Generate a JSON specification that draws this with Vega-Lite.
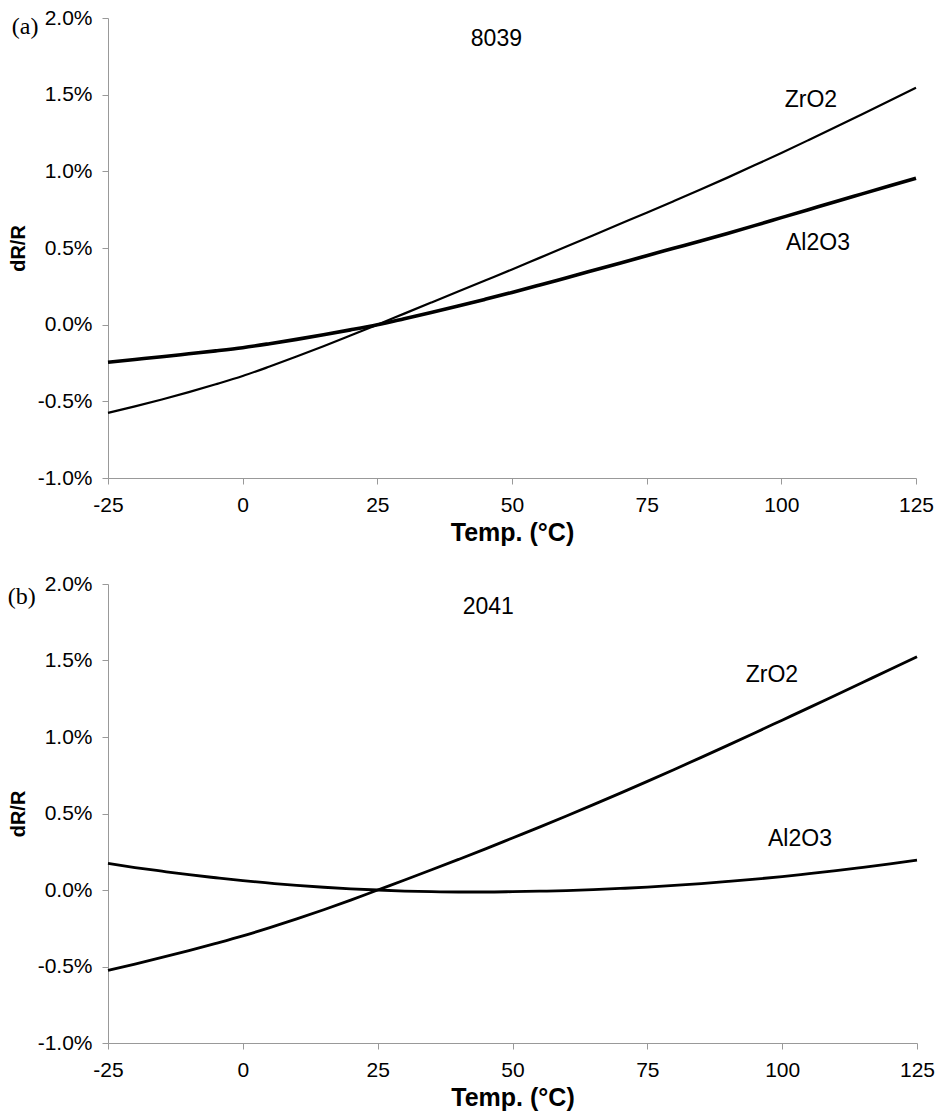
{
  "$schema": "https://vega.github.io/schema/vega-lite/v6.json",
  "background": "white",
  "padding": {"left": 7, "top": 7, "right": 5, "bottom": 5},
  "bounds": "flush",
  "spacing": 106,
  "config": {
    "font": "Liberation Sans",
    "view": {"stroke": null},
    "axis": {
      "domainColor": "#999999",
      "tickColor": "#999999",
      "tickSize": 6,
      "labelColor": "#000000",
      "labelFontSize": 21,
      "labelFont": "Liberation Sans",
      "titleFont": "Liberation Sans",
      "titleColor": "#000000",
      "grid": false,
      "labelPadding": 10
    }
  },
  "datasets": {
    "curves": [
      {"panel": "a", "material": "ZrO2", "T": -25, "v": -0.575},
      {"panel": "a", "material": "ZrO2", "T": -20, "v": -0.533},
      {"panel": "a", "material": "ZrO2", "T": -15, "v": -0.488},
      {"panel": "a", "material": "ZrO2", "T": -10, "v": -0.44},
      {"panel": "a", "material": "ZrO2", "T": -5, "v": -0.389},
      {"panel": "a", "material": "ZrO2", "T": 0, "v": -0.335},
      {"panel": "a", "material": "ZrO2", "T": 5, "v": -0.273},
      {"panel": "a", "material": "ZrO2", "T": 10, "v": -0.208},
      {"panel": "a", "material": "ZrO2", "T": 15, "v": -0.141},
      {"panel": "a", "material": "ZrO2", "T": 20, "v": -0.071},
      {"panel": "a", "material": "ZrO2", "T": 25, "v": 0},
      {"panel": "a", "material": "ZrO2", "T": 30, "v": 0.072},
      {"panel": "a", "material": "ZrO2", "T": 35, "v": 0.144},
      {"panel": "a", "material": "ZrO2", "T": 40, "v": 0.216},
      {"panel": "a", "material": "ZrO2", "T": 45, "v": 0.288},
      {"panel": "a", "material": "ZrO2", "T": 50, "v": 0.36},
      {"panel": "a", "material": "ZrO2", "T": 55, "v": 0.434},
      {"panel": "a", "material": "ZrO2", "T": 60, "v": 0.508},
      {"panel": "a", "material": "ZrO2", "T": 65, "v": 0.582},
      {"panel": "a", "material": "ZrO2", "T": 70, "v": 0.656},
      {"panel": "a", "material": "ZrO2", "T": 75, "v": 0.73},
      {"panel": "a", "material": "ZrO2", "T": 80, "v": 0.805},
      {"panel": "a", "material": "ZrO2", "T": 85, "v": 0.881},
      {"panel": "a", "material": "ZrO2", "T": 90, "v": 0.959},
      {"panel": "a", "material": "ZrO2", "T": 95, "v": 1.039},
      {"panel": "a", "material": "ZrO2", "T": 100, "v": 1.12},
      {"panel": "a", "material": "ZrO2", "T": 105, "v": 1.203},
      {"panel": "a", "material": "ZrO2", "T": 110, "v": 1.287},
      {"panel": "a", "material": "ZrO2", "T": 115, "v": 1.372},
      {"panel": "a", "material": "ZrO2", "T": 120, "v": 1.458},
      {"panel": "a", "material": "ZrO2", "T": 125, "v": 1.545},
      {"panel": "a", "material": "Al2O3", "T": -25, "v": -0.245},
      {"panel": "a", "material": "Al2O3", "T": -20, "v": -0.227},
      {"panel": "a", "material": "Al2O3", "T": -15, "v": -0.209},
      {"panel": "a", "material": "Al2O3", "T": -10, "v": -0.19},
      {"panel": "a", "material": "Al2O3", "T": -5, "v": -0.171},
      {"panel": "a", "material": "Al2O3", "T": 0, "v": -0.15},
      {"panel": "a", "material": "Al2O3", "T": 5, "v": -0.124},
      {"panel": "a", "material": "Al2O3", "T": 10, "v": -0.096},
      {"panel": "a", "material": "Al2O3", "T": 15, "v": -0.066},
      {"panel": "a", "material": "Al2O3", "T": 20, "v": -0.034},
      {"panel": "a", "material": "Al2O3", "T": 25, "v": 0},
      {"panel": "a", "material": "Al2O3", "T": 30, "v": 0.039},
      {"panel": "a", "material": "Al2O3", "T": 35, "v": 0.079},
      {"panel": "a", "material": "Al2O3", "T": 40, "v": 0.121},
      {"panel": "a", "material": "Al2O3", "T": 45, "v": 0.165},
      {"panel": "a", "material": "Al2O3", "T": 50, "v": 0.21},
      {"panel": "a", "material": "Al2O3", "T": 55, "v": 0.257},
      {"panel": "a", "material": "Al2O3", "T": 60, "v": 0.305},
      {"panel": "a", "material": "Al2O3", "T": 65, "v": 0.353},
      {"panel": "a", "material": "Al2O3", "T": 70, "v": 0.401},
      {"panel": "a", "material": "Al2O3", "T": 75, "v": 0.45},
      {"panel": "a", "material": "Al2O3", "T": 80, "v": 0.498},
      {"panel": "a", "material": "Al2O3", "T": 85, "v": 0.546},
      {"panel": "a", "material": "Al2O3", "T": 90, "v": 0.595},
      {"panel": "a", "material": "Al2O3", "T": 95, "v": 0.646},
      {"panel": "a", "material": "Al2O3", "T": 100, "v": 0.698},
      {"panel": "a", "material": "Al2O3", "T": 105, "v": 0.75},
      {"panel": "a", "material": "Al2O3", "T": 110, "v": 0.802},
      {"panel": "a", "material": "Al2O3", "T": 115, "v": 0.853},
      {"panel": "a", "material": "Al2O3", "T": 120, "v": 0.904},
      {"panel": "a", "material": "Al2O3", "T": 125, "v": 0.955},
      {"panel": "b", "material": "ZrO2", "T": -25, "v": -0.525},
      {"panel": "b", "material": "ZrO2", "T": -20, "v": -0.484},
      {"panel": "b", "material": "ZrO2", "T": -15, "v": -0.441},
      {"panel": "b", "material": "ZrO2", "T": -10, "v": -0.396},
      {"panel": "b", "material": "ZrO2", "T": -5, "v": -0.349},
      {"panel": "b", "material": "ZrO2", "T": 0, "v": -0.3},
      {"panel": "b", "material": "ZrO2", "T": 5, "v": -0.246},
      {"panel": "b", "material": "ZrO2", "T": 10, "v": -0.189},
      {"panel": "b", "material": "ZrO2", "T": 15, "v": -0.129},
      {"panel": "b", "material": "ZrO2", "T": 20, "v": -0.066},
      {"panel": "b", "material": "ZrO2", "T": 25, "v": 0},
      {"panel": "b", "material": "ZrO2", "T": 30, "v": 0.065},
      {"panel": "b", "material": "ZrO2", "T": 35, "v": 0.132},
      {"panel": "b", "material": "ZrO2", "T": 40, "v": 0.2},
      {"panel": "b", "material": "ZrO2", "T": 45, "v": 0.269},
      {"panel": "b", "material": "ZrO2", "T": 50, "v": 0.34},
      {"panel": "b", "material": "ZrO2", "T": 55, "v": 0.411},
      {"panel": "b", "material": "ZrO2", "T": 60, "v": 0.484},
      {"panel": "b", "material": "ZrO2", "T": 65, "v": 0.558},
      {"panel": "b", "material": "ZrO2", "T": 70, "v": 0.633},
      {"panel": "b", "material": "ZrO2", "T": 75, "v": 0.71},
      {"panel": "b", "material": "ZrO2", "T": 80, "v": 0.788},
      {"panel": "b", "material": "ZrO2", "T": 85, "v": 0.867},
      {"panel": "b", "material": "ZrO2", "T": 90, "v": 0.947},
      {"panel": "b", "material": "ZrO2", "T": 95, "v": 1.028},
      {"panel": "b", "material": "ZrO2", "T": 100, "v": 1.11},
      {"panel": "b", "material": "ZrO2", "T": 105, "v": 1.192},
      {"panel": "b", "material": "ZrO2", "T": 110, "v": 1.275},
      {"panel": "b", "material": "ZrO2", "T": 115, "v": 1.358},
      {"panel": "b", "material": "ZrO2", "T": 120, "v": 1.441},
      {"panel": "b", "material": "ZrO2", "T": 125, "v": 1.525},
      {"panel": "b", "material": "Al2O3", "T": -25, "v": 0.174},
      {"panel": "b", "material": "Al2O3", "T": -20, "v": 0.147},
      {"panel": "b", "material": "Al2O3", "T": -15, "v": 0.123},
      {"panel": "b", "material": "Al2O3", "T": -10, "v": 0.1},
      {"panel": "b", "material": "Al2O3", "T": -5, "v": 0.08},
      {"panel": "b", "material": "Al2O3", "T": 0, "v": 0.061},
      {"panel": "b", "material": "Al2O3", "T": 5, "v": 0.045},
      {"panel": "b", "material": "Al2O3", "T": 10, "v": 0.03},
      {"panel": "b", "material": "Al2O3", "T": 15, "v": 0.018},
      {"panel": "b", "material": "Al2O3", "T": 20, "v": 0.008},
      {"panel": "b", "material": "Al2O3", "T": 25, "v": 0},
      {"panel": "b", "material": "Al2O3", "T": 30, "v": -0.007},
      {"panel": "b", "material": "Al2O3", "T": 35, "v": -0.011},
      {"panel": "b", "material": "Al2O3", "T": 40, "v": -0.013},
      {"panel": "b", "material": "Al2O3", "T": 45, "v": -0.013},
      {"panel": "b", "material": "Al2O3", "T": 50, "v": -0.011},
      {"panel": "b", "material": "Al2O3", "T": 55, "v": -0.008},
      {"panel": "b", "material": "Al2O3", "T": 60, "v": -0.004},
      {"panel": "b", "material": "Al2O3", "T": 65, "v": 0.002},
      {"panel": "b", "material": "Al2O3", "T": 70, "v": 0.01},
      {"panel": "b", "material": "Al2O3", "T": 75, "v": 0.019},
      {"panel": "b", "material": "Al2O3", "T": 80, "v": 0.03},
      {"panel": "b", "material": "Al2O3", "T": 85, "v": 0.042},
      {"panel": "b", "material": "Al2O3", "T": 90, "v": 0.056},
      {"panel": "b", "material": "Al2O3", "T": 95, "v": 0.071},
      {"panel": "b", "material": "Al2O3", "T": 100, "v": 0.088},
      {"panel": "b", "material": "Al2O3", "T": 105, "v": 0.107},
      {"panel": "b", "material": "Al2O3", "T": 110, "v": 0.126},
      {"panel": "b", "material": "Al2O3", "T": 115, "v": 0.148},
      {"panel": "b", "material": "Al2O3", "T": 120, "v": 0.171},
      {"panel": "b", "material": "Al2O3", "T": 125, "v": 0.195}
    ],
    "notes": [
      {"panel": "a", "kind": "label", "text": "ZrO2", "T": 105.5, "v": 1.468},
      {"panel": "a", "kind": "label", "text": "Al2O3", "T": 106.8, "v": 0.532},
      {"panel": "a", "kind": "label", "text": "8039", "T": 47.1, "v": 1.86},
      {"panel": "a", "kind": "tag", "text": "(a)", "T": -40.4, "v": 1.94},
      {"panel": "b", "kind": "label", "text": "ZrO2", "T": 98.1, "v": 1.408},
      {"panel": "b", "kind": "label", "text": "Al2O3", "T": 103.3, "v": 0.333},
      {"panel": "b", "kind": "label", "text": "2041", "T": 45.5, "v": 1.85},
      {"panel": "b", "kind": "tag", "text": "(b)", "T": -41.0, "v": 1.915}
    ]
  },
  "vconcat": [
    {
      "width": 808,
      "height": 460,
      "layer": [
        {
          "data": {"name": "curves"},
          "transform": [{"filter": "datum.panel === 'a'"}],
          "mark": {"type": "line", "color": "#000000", "interpolate": "monotone"},
          "encoding": {
            "x": {"field": "T", "type": "quantitative",
              "scale": {"domain": [-25, 125], "nice": false, "zero": false},
              "axis": {"values": [-25, 0, 25, 50, 75, 100, 125], "title": "Temp. (°C)", "titleFontSize": 25, "titleFontWeight": "bold", "titlePadding": 5, "labelFlush": false, "labelExpr": "replace(datum.label, '\u2212', '-')"}},
            "y": {"field": "v", "type": "quantitative",
              "scale": {"domain": [-1, 2], "nice": false, "zero": false},
              "axis": {"values": [-1, -0.5, 0, 0.5, 1, 1.5, 2], "title": "dR/R", "titleFontSize": 20, "titleFontWeight": "bold", "titlePadding": 9, "labelExpr": "replace(format(datum.value, '.1f'), '\u2212', '-') + '%'"}},
            "detail": {"field": "material", "type": "nominal"},
            "strokeWidth": {"field": "material", "type": "nominal", "scale": {"domain": ["Al2O3", "ZrO2"], "range": [3.6, 2.2]}, "legend": null}
          }
        },
        {
          "data": {"name": "notes"},
          "transform": [{"filter": "datum.panel === 'a' && datum.kind === 'label'"}],
          "mark": {"type": "text", "font": "Liberation Sans", "fontSize": 23, "color": "#000000", "align": "center", "baseline": "middle"},
          "encoding": {
            "x": {"field": "T", "type": "quantitative"},
            "y": {"field": "v", "type": "quantitative"},
            "text": {"field": "text"}
          }
        },
        {
          "data": {"name": "notes"},
          "transform": [{"filter": "datum.panel === 'a' && datum.kind === 'tag'"}],
          "mark": {"type": "text", "font": "Liberation Serif", "fontSize": 24, "color": "#000000", "align": "center", "baseline": "middle"},
          "encoding": {
            "x": {"field": "T", "type": "quantitative"},
            "y": {"field": "v", "type": "quantitative"},
            "text": {"field": "text"}
          }
        }
      ]
    },
    {
      "width": 809,
      "height": 459,
      "layer": [
        {
          "data": {"name": "curves"},
          "transform": [{"filter": "datum.panel === 'b'"}],
          "mark": {"type": "line", "color": "#000000", "interpolate": "monotone", "strokeWidth": 2.8},
          "encoding": {
            "x": {"field": "T", "type": "quantitative",
              "scale": {"domain": [-25, 125], "nice": false, "zero": false},
              "axis": {"values": [-25, 0, 25, 50, 75, 100, 125], "title": "Temp. (°C)", "titleFontSize": 25, "titleFontWeight": "bold", "titlePadding": 5, "labelFlush": false, "labelExpr": "replace(datum.label, '\u2212', '-')"}},
            "y": {"field": "v", "type": "quantitative",
              "scale": {"domain": [-1, 2], "nice": false, "zero": false},
              "axis": {"values": [-1, -0.5, 0, 0.5, 1, 1.5, 2], "title": "dR/R", "titleFontSize": 20, "titleFontWeight": "bold", "titlePadding": 9, "labelExpr": "replace(format(datum.value, '.1f'), '\u2212', '-') + '%'"}},
            "detail": {"field": "material", "type": "nominal"}
          }
        },
        {
          "data": {"name": "notes"},
          "transform": [{"filter": "datum.panel === 'b' && datum.kind === 'label'"}],
          "mark": {"type": "text", "font": "Liberation Sans", "fontSize": 23, "color": "#000000", "align": "center", "baseline": "middle"},
          "encoding": {
            "x": {"field": "T", "type": "quantitative"},
            "y": {"field": "v", "type": "quantitative"},
            "text": {"field": "text"}
          }
        },
        {
          "data": {"name": "notes"},
          "transform": [{"filter": "datum.panel === 'b' && datum.kind === 'tag'"}],
          "mark": {"type": "text", "font": "Liberation Serif", "fontSize": 24, "color": "#000000", "align": "center", "baseline": "middle"},
          "encoding": {
            "x": {"field": "T", "type": "quantitative"},
            "y": {"field": "v", "type": "quantitative"},
            "text": {"field": "text"}
          }
        }
      ]
    }
  ]
}
